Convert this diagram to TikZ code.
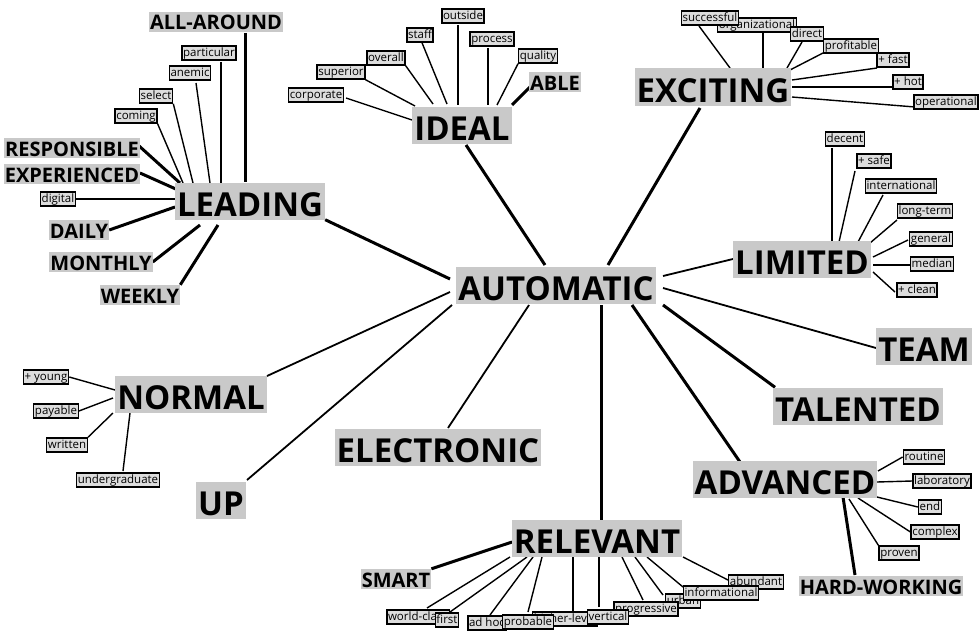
\documentclass[tikz,border=0pt]{standalone}
\usepackage{fontspec}
\setmainfont{Open Sans}
\usetikzlibrary{backgrounds}
\definecolor{biggray}{HTML}{C9C9C9}
\definecolor{smallgray}{HTML}{DDDDDD}
\tikzset{
 bigw/.style={fill=biggray, font=\bfseries\fontsize{33}{33}\selectfont, text height=33pt, text depth=2pt, inner xsep=2pt, inner ysep=1pt},
 midw/.style={fill=biggray, font=\bfseries\fontsize{20}{20}\selectfont, text height=17pt, text depth=1pt, inner xsep=1pt, inner ysep=1pt},
 smallw/.style={draw=black, line width=1.4pt, fill=smallgray, font=\fontsize{11.5}{11.5}\selectfont, text height=9pt, text depth=2.5pt, inner xsep=1.2pt, inner ysep=1.3pt},
 thickc/.style={line width=3pt},
 medc/.style={line width=1.8pt},
 thinc/.style={line width=1.4pt},
}
\begin{document}
\begin{tikzpicture}[x=1pt,y=-1pt]
\useasboundingbox (0,0) rectangle (980,634);
% ---------- big words
\node[bigw] (auto) at (556,285) {AUTOMATIC};
\node[bigw] (lead) at (250,201) {LEADING};
\node[bigw] (ideal) at (462,125) {IDEAL};
\node[bigw] (exci) at (713,87) {EXCITING};
\node[bigw] (limi) at (802,259) {LIMITED};
\node[bigw] (team) at (924,346) {TEAM};
\node[bigw] (tale) at (858,406) {TALENTED};
\node[bigw] (adva) at (785,479) {ADVANCED};
\node[bigw] (rele) at (597,538) {RELEVANT};
\node[bigw] (norm) at (191,394) {NORMAL};
\node[bigw] (up) at (221,500) {UP};
\node[bigw] (elec) at (438,447) {ELECTRONIC};
% ---------- medium words
\node[midw] (aa) at (216,22) {ALL-AROUND};
\node[midw] (resp) at (72,148) {RESPONSIBLE};
\node[midw] (expe) at (72,174) {EXPERIENCED};
\node[midw] (daily) at (79,230) {DAILY};
\node[midw] (month) at (101,262) {MONTHLY};
\node[midw] (week) at (140,295) {WEEKLY};
\node[midw] (able) at (555,82) {ABLE};
\node[midw] (smart) at (396,579) {SMART};
\node[midw] (hard) at (881,586) {HARD-WORKING};
% ---------- small words: LEADING
\node[smallw] (digital) at (58,199) {digital};
\node[smallw] (coming) at (136,116) {coming};
\node[smallw] (select) at (156,96) {select};
\node[smallw] (anemic) at (190,73) {anemic};
\node[smallw] (partic) at (209,53) {particular};
% IDEAL
\node[smallw] (corp) at (316,95) {corporate};
\node[smallw] (super) at (341,72) {superior};
\node[smallw] (overall) at (386,58) {overall};
\node[smallw] (staff) at (420,35) {staff};
\node[smallw] (outside) at (463,16) {outside};
\node[smallw] (process) at (492,39) {process};
\node[smallw] (quality) at (538,56) {quality};
% EXCITING
\node[smallw] (org) at (757,25) {organizational};
\node[smallw] (succ) at (710,18) {successful};
\node[smallw] (direct) at (807,34) {direct};
\node[smallw] (profit) at (851,46) {profitable};
\node[smallw] (fast) at (893,60) {+ fast};
\node[smallw] (hot) at (908,82) {+ hot};
\node[smallw] (oper) at (946,102) {operational};
% LIMITED
\node[smallw] (decent) at (845,139) {decent};
\node[smallw] (safe) at (874,161) {+ safe};
\node[smallw] (intl) at (901,186) {international};
\node[smallw] (lterm) at (925,211) {long-term};
\node[smallw] (general) at (931,239) {general};
\node[smallw] (median) at (932,264) {median};
\node[smallw] (clean) at (917,290) {+ clean};
% ADVANCED
\node[smallw] (routine) at (924,457) {routine};
\node[smallw] (lab) at (942,481) {laboratory};
\node[smallw] (endn) at (930,507) {end};
\node[smallw] (complex) at (935,532) {complex};
\node[smallw] (proven) at (899,553) {proven};
% RELEVANT
\node[smallw] (world) at (418,617) {world-class};
\node[smallw] (first) at (447,620) {first};
\node[smallw] (adhoc) at (487,623) {ad hoc};
\node[smallw] (higher) at (565,619) {higher-level};
\node[smallw] (prob) at (528,622) {probable};
\node[smallw] (urban) at (683,601) {urban};
\node[smallw] (abund) at (756,582) {abundant};
\node[smallw] (info) at (721,593) {informational};
\node[smallw] (prog) at (646,609) {progressive};
\node[smallw] (vert) at (608,617) {vertical};
% NORMAL
\node[smallw] (young) at (46,377) {+ young};
\node[smallw] (payable) at (56,411) {payable};
\node[smallw] (written) at (67,445) {written};
\node[smallw] (under) at (118,480) {undergraduate};

\begin{pgfonlayer}{background}
\fill[white] (0,0) rectangle (980,634);
% ---- to AUTOMATIC
\draw[thickc] (lead.south east) -- ([shift={(-106,-6)}]auto.center);
\draw[thickc] ([shift={(4,20)}]ideal.center) -- ([shift={(-11,-20)}]auto.center);
\draw[thickc] ([shift={(-13,21)}]exci.center) -- ([shift={(52,-20)}]auto.center);
\draw[medc] ([shift={(-69,0)}]limi.center) -- ([shift={(107,-9)}]auto.center);
\draw[medc] ([shift={(-48,2)}]team.center) -- ([shift={(107,3)}]auto.center);
\draw[thickc] ([shift={(2,0)}]tale.north west) -- ([shift={(107,20)}]auto.center);
\draw[thickc] ([shift={(-45,-17)}]adva.center) -- ([shift={(76,20)}]auto.center);
\draw[thickc] ([shift={(4,-18)}]rele.center) -- ([shift={(45,20)}]auto.center);
\draw[medc] ([shift={(76,-18)}]norm.center) -- ([shift={(-106,7)}]auto.center);
\draw[medc] ([shift={(26,-20)}]up.center) -- ([shift={(-104,20)}]auto.center);
\draw[medc] ([shift={(10,-19)}]elec.center) -- ([shift={(-27,20)}]auto.center);
% ---- LEADING
\draw[thickc] ([shift={(29,11)}]aa.center) -- ([shift={(-5,-19)}]lead.center);
\draw[thinc] ([shift={(12,9)}]partic.center) -- ([shift={(-29,-18)}]lead.center);
\draw[thinc] ([shift={(6,10)}]anemic.center) -- ([shift={(-40,-18)}]lead.center);
\draw[thinc] (select.south east) -- ([shift={(-57,-18)}]lead.center);
\draw[thinc] (coming.south east) -- ([shift={(-67,-18)}]lead.center);
\draw[thickc] ([shift={(66,-3)}]resp.center) -- ([shift={(-70,-18)}]lead.center);
\draw[thickc] ([shift={(68,-1)}]expe.center) -- ([shift={(-72,-11)}]lead.center);
\draw[thinc] (digital.east) -- ([shift={(-72,-2)}]lead.center);
\draw[thickc] (daily.east) -- ([shift={(-75,6)}]lead.center);
\draw[thickc] (month.east) -- ([shift={(-50,24)}]lead.center);
\draw[thickc] (week.north east) -- ([shift={(-32,24)}]lead.center);
% ---- IDEAL
\draw[thinc] ([shift={(30,3)}]corp.center) -- ([shift={(-47,-4)}]ideal.center);
\draw[thinc] (super.south east) -- ([shift={(-47,-19)}]ideal.center);
\draw[thinc] (overall.south east) -- ([shift={(-29,-21)}]ideal.center);
\draw[thinc] ([shift={(2,0)}]staff.south) -- ([shift={(-15,-21)}]ideal.center);
\draw[thinc] ([shift={(-5,9)}]outside.center) -- ([shift={(-4,-20)}]ideal.center);
\draw[thinc] ([shift={(-4,9)}]process.center) -- ([shift={(26,-20)}]ideal.center);
\draw[thinc] (quality.south west) -- ([shift={(35,-20)}]ideal.center);
\draw[thickc] ([shift={(-25,5)}]able.center) -- ([shift={(50,-20)}]ideal.center);
% ---- EXCITING
\draw[thinc] ([shift={(-11,8)}]succ.center) -- ([shift={(17,-19)}]exci.center);
\draw[thinc] ([shift={(6,8)}]org.center) -- ([shift={(50,-19)}]exci.center);
\draw[thinc] ([shift={(-5,8)}]direct.center) -- ([shift={(74,-19)}]exci.center);
\draw[thinc] ([shift={(-28,7)}]profit.center) -- ([shift={(77,-17)}]exci.center);
\draw[thinc] ([shift={(-16,8)}]fast.center) -- ([shift={(79,-7)}]exci.center);
\draw[thinc] ([shift={(-16,5)}]hot.center) -- ([shift={(79,0)}]exci.center);
\draw[thinc] ([shift={(-31,5)}]oper.center) -- ([shift={(79,10)}]exci.center);
% ---- LIMITED
\draw[thinc] ([shift={(-13,9)}]decent.center) -- ([shift={(30,-17)}]limi.center);
\draw[thinc] ([shift={(-19,10)}]safe.center) -- ([shift={(37,-17)}]limi.center);
\draw[thinc] ([shift={(-18,9)}]intl.center) -- ([shift={(56,-17)}]limi.center);
\draw[thinc] ([shift={(-28,9)}]lterm.center) -- ([shift={(68,-16)}]limi.center);
\draw[thinc] ([shift={(-23,1)}]general.center) -- ([shift={(71,-2)}]limi.center);
\draw[thinc] ([shift={(-22,1)}]median.center) -- ([shift={(71,6)}]limi.center);
\draw[thinc] ([shift={(-22,2)}]clean.center) -- ([shift={(71,13)}]limi.center);
% ---- ADVANCED
\draw[thinc] (routine.west) -- ([shift={(93,-8)}]adva.center);
\draw[thinc] (lab.west) -- ([shift={(92,3)}]adva.center);
\draw[thinc] (endn.west) -- ([shift={(92,18)}]adva.center);
\draw[thinc] (complex.west) -- ([shift={(73,19)}]adva.center);
\draw[thinc] (proven.north west) -- ([shift={(64,20)}]adva.center);
\draw[thickc] ([shift={(-26,-11)}]hard.center) -- ([shift={(58,18)}]adva.center);
% ---- RELEVANT
\draw[thickc] (smart.north east) -- ([shift={(-85,4)}]rele.center);
\draw[thinc] ([shift={(9,-9)}]world.center) -- ([shift={(-87,19)}]rele.center);
\draw[thinc] ([shift={(3,-8)}]first.center) -- ([shift={(-70,19)}]rele.center);
\draw[thinc] ([shift={(3,-8)}]adhoc.center) -- ([shift={(-64,19)}]rele.center);
\draw[thinc] ([shift={(0,-10)}]prob.center) -- ([shift={(-55,19)}]rele.center);
\draw[thinc] ([shift={(8,-7)}]higher.center) -- ([shift={(-24,19)}]rele.center);
\draw[thinc] ([shift={(-9,-10)}]vert.center) -- ([shift={(2,19)}]rele.center);
\draw[thinc] ([shift={(-3,-9)}]prog.center) -- ([shift={(25,19)}]rele.center);
\draw[thinc] ([shift={(-20,-6)}]urban.center) -- ([shift={(38,19)}]rele.center);
\draw[thinc] ([shift={(-38,-6)}]info.center) -- ([shift={(50,19)}]rele.center);
\draw[thinc] ([shift={(-28,-2)}]abund.center) -- ([shift={(86,19)}]rele.center);
% ---- NORMAL
\draw[thinc] (young.east) -- ([shift={(-76,-4)}]norm.center);
\draw[thinc] (payable.east) -- ([shift={(-78,4)}]norm.center);
\draw[thinc] (written.north east) -- ([shift={(-78,19)}]norm.center);
\draw[thinc] ([shift={(5,-9)}]under.center) -- ([shift={(-61,19)}]norm.center);
\end{pgfonlayer}
\end{tikzpicture}
\end{document}
